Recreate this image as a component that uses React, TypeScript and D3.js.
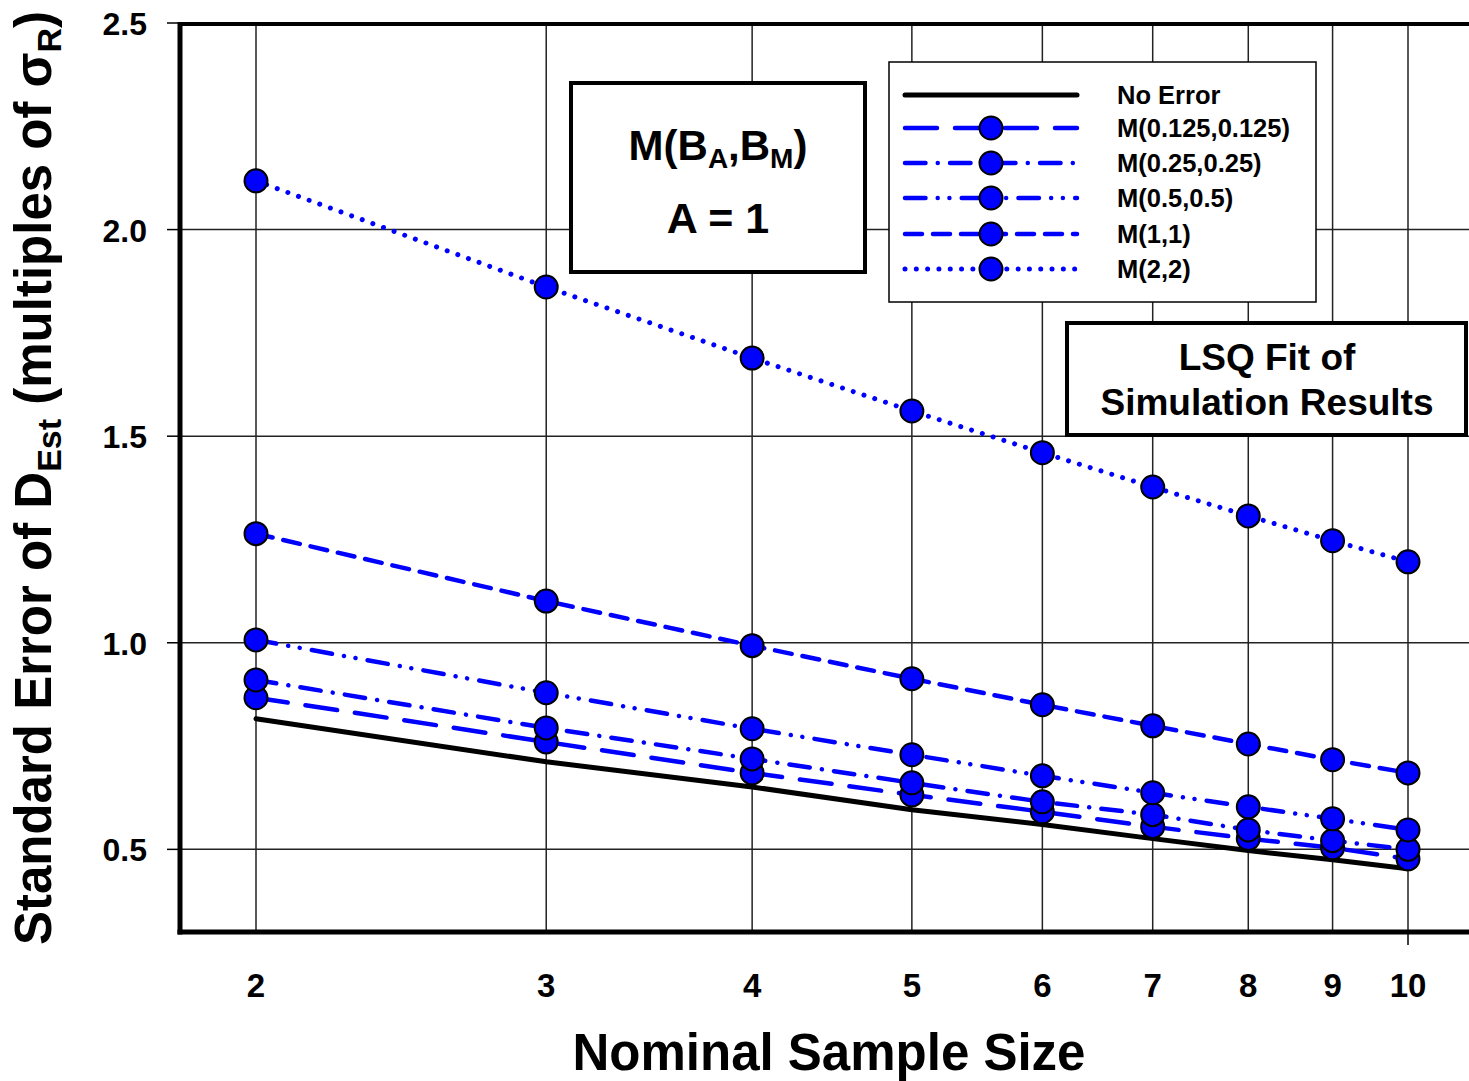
import React from "react";
import * as d3 from "d3";

const sampleSizes = [2, 3, 4, 5, 6, 7, 8, 9, 10];
const noError = [0.816, 0.712, 0.651, 0.596, 0.56, 0.526, 0.497, 0.475, 0.453];
const m0125 = [0.867, 0.76, 0.685, 0.632, 0.591, 0.555, 0.526, 0.504, 0.477];
const m025 = [0.91, 0.794, 0.719, 0.661, 0.615, 0.584, 0.547, 0.521, 0.5];
const m05 = [1.007, 0.879, 0.792, 0.729, 0.678, 0.637, 0.603, 0.574, 0.547];
const m1 = [1.264, 1.101, 0.993, 0.913, 0.85, 0.799, 0.755, 0.717, 0.685];
const m2 = [2.118, 1.861, 1.689, 1.561, 1.46, 1.377, 1.307, 1.247, 1.196];
const yTicks = [0.5, 1.0, 1.5, 2.0, 2.5];
const seriesNames = ["No Error", "M(0.125,0.125)", "M(0.25,0.25)", "M(0.5,0.5)", "M(1,1)", "M(2,2)"];

const FONT = "'Liberation Sans', Arial, Helvetica, sans-serif";
const BLUE = "#0000FF";

const series = [
  { name: seriesNames[0], values: noError, color: "#000", dash: "", width: 5, markers: false },
  { name: seriesNames[1], values: m0125, color: BLUE, dash: "32,18", width: 4.5, markers: true },
  { name: seriesNames[2], values: m025, color: BLUE, dash: "20.5,12.25,0.01,12.25", width: 4.5, markers: true },
  { name: seriesNames[3], values: m05, color: BLUE, dash: "20.5,12.2,0.01,11.7,0.01,12.3", width: 4.5, markers: true },
  { name: seriesNames[4], values: m1, color: BLUE, dash: "17,11", width: 4.5, markers: true },
  { name: seriesNames[5], values: m2, color: BLUE, dash: "0.01,11.3", width: 5, markers: true },
];

export default function App() {
  const W = 1469;
  const H = 1081;
  const left = 180;
  const right = 1469;
  const top = 23;
  const bottom = 932;

  const x = d3.scaleLog().domain([2, 10]).range([256, 1408]);
  const y = d3.scaleLinear().domain([0.3, 2.5]).range([bottom, top]);
  const line = d3
    .line<number>()
    .x((_, i) => x(sampleSizes[i]))
    .y((d) => y(d));

  const legX0 = 905;
  const legX1 = 1077;
  const legMarkX = 991;
  const legRows = [95, 128, 163, 198, 234, 269];

  return (
    <svg
      width={W}
      height={H}
      style={{ position: "absolute", left: 0, top: 0, background: "#fff" }}
      fontFamily={FONT}
      fontWeight="bold"
    >
      <rect x={0} y={0} width={W} height={H} fill="#fff" />
      {/* grid */}
      {sampleSizes.map((n) => (
        <line key={"vg" + n} x1={x(n)} x2={x(n)} y1={top} y2={bottom} stroke="#222" strokeWidth={1.5} />
      ))}
      {yTicks.slice(0, 4).map((t) => (
        <line key={"hg" + t} x1={left} x2={right} y1={y(t)} y2={y(t)} stroke="#222" strokeWidth={1.5} />
      ))}
      {/* y ticks */}
      {yTicks.map((t) => (
        <g key={"yt" + t}>
          <line x1={167} x2={left} y1={y(t)} y2={y(t)} stroke="#000" strokeWidth={1.5} />
          <text x={147} y={y(t) + 12} fontSize={32} textAnchor="end">
            {t.toFixed(1)}
          </text>
        </g>
      ))}
      {/* x tick labels */}
      {sampleSizes.map((n) => (
        <text key={"xt" + n} x={x(n)} y={997} fontSize={33} textAnchor="middle">
          {n}
        </text>
      ))}
      <line x1={x(10)} x2={x(10)} y1={bottom} y2={945} stroke="#000" strokeWidth={1.5} />
      {/* axes frame */}
      <line x1={left} x2={right} y1={top + 1} y2={top + 1} stroke="#000" strokeWidth={4} />
      <line x1={left} x2={left} y1={top - 1} y2={bottom + 2.5} stroke="#000" strokeWidth={5} />
      <line x1={left - 2.5} x2={right} y1={bottom} y2={bottom} stroke="#000" strokeWidth={5} />

      {/* series */}
      {series.map((s) => (
        <g key={s.name}>
          <path
            d={line(s.values) || ""}
            fill="none"
            stroke={s.color}
            strokeWidth={s.width}
            strokeDasharray={s.dash || undefined}
            strokeLinecap="round"
          />
          {s.markers &&
            s.values.map((v, i) => (
              <circle key={i} cx={x(sampleSizes[i])} cy={y(v)} r={11.5} fill={BLUE} stroke="#000" strokeWidth={2} />
            ))}
        </g>
      ))}

      {/* label box 1 */}
      <rect x={571} y={83} width={294} height={189} fill="#fff" stroke="#000" strokeWidth={4} />
      <text x={718} y={160} fontSize={42} textAnchor="middle">
        M(B<tspan fontSize={28} dy={8}>A</tspan>
        <tspan dy={-8}>,B</tspan>
        <tspan fontSize={28} dy={8}>M</tspan>
        <tspan dy={-8}>)</tspan>
      </text>
      <text x={718} y={233} fontSize={43} textAnchor="middle">
        A = 1
      </text>

      {/* legend */}
      <rect x={889} y={62} width={427} height={240} fill="#fff" stroke="#000" strokeWidth={1.5} />
      {series.map((s, i) => (
        <g key={"leg" + s.name}>
          <line
            x1={legX0}
            x2={legX1}
            y1={legRows[i]}
            y2={legRows[i]}
            stroke={s.color}
            strokeWidth={s.width}
            strokeDasharray={s.dash || undefined}
            strokeLinecap="round"
          />
          {s.markers && (
            <circle cx={legMarkX} cy={legRows[i]} r={11.5} fill={BLUE} stroke="#000" strokeWidth={2} />
          )}
          <text x={1117} y={legRows[i] + 9} fontSize={25.5}>
            {s.name}
          </text>
        </g>
      ))}

      {/* label box 2 */}
      <rect x={1067} y={323} width={399} height={112} fill="#fff" stroke="#000" strokeWidth={4} />
      <text x={1267} y={370} fontSize={37} textAnchor="middle">
        LSQ Fit of
      </text>
      <text x={1267} y={415} fontSize={37} textAnchor="middle">
        Simulation Results
      </text>

      {/* axis titles */}
      <text x={829} y={1070} fontSize={51} textAnchor="middle">
        Nominal Sample Size
      </text>
      <text transform="translate(51,478) rotate(-90)" fontSize={51} textAnchor="middle">
        Standard Error of D<tspan fontSize={34} dy={10}>Est</tspan>
        <tspan dy={-10}>{"  (multiples of σ"}</tspan>
        <tspan fontSize={34} dy={10}>R</tspan>
        <tspan dy={-10}>)</tspan>
      </text>
    </svg>
  );
}
